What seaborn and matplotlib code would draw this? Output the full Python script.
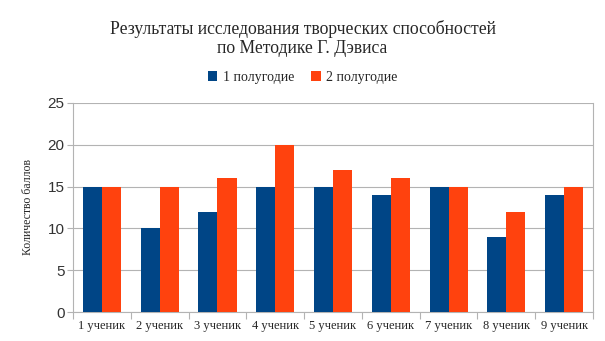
import pandas as pd
import seaborn as sns
import matplotlib.pyplot as plt
from matplotlib.ticker import FixedLocator

# %% DATA

students = ['1 ученик', '2 ученик', '3 ученик', '4 ученик', '5 ученик',
            '6 ученик', '7 ученик', '8 ученик', '9 ученик']
half1 = [15, 10, 12, 15, 15, 14, 15, 9, 14]
half2 = [15, 15, 16, 20, 17, 16, 15, 12, 15]
series = ['1 полугодие', '2 полугодие']

data = pd.concat([
    pd.DataFrame({'Ученик': students, 'Баллы': half1, 'Период': series[0]}),
    pd.DataFrame({'Ученик': students, 'Баллы': half2, 'Период': series[1]}),
])

# %% PLOT

sns.set_style('white')
plt.rcParams['font.family'] = ['Liberation Serif', 'DejaVu Serif']

fig = plt.figure(figsize=(6.05, 3.41), dpi=100)
ax = fig.add_axes([0.1207, 0.085, 0.8595, 0.613])

sns.barplot(
    data=data,
    x='Ученик',
    y='Баллы',
    hue='Период',
    order=students,
    hue_order=series,
    palette=['#004586', '#ff420e'],
    saturation=1,
    width=0.66,
    gap=0,
    errorbar=None,
    linewidth=0,
    ax=ax,
    zorder=3,
)

ax.set_ylim(0, 25)
ax.set_xlim(-0.5, len(students) - 0.5)
ax.set_yticks(range(0, 26, 5))
ax.yaxis.grid(True, color='#b3b3b3', linewidth=0.8, zorder=0)
ax.set_axisbelow(True)
for lbl in ax.get_yticklabels():
    lbl.set_family('Liberation Sans')
    lbl.set_fontsize(11)
    lbl.set_color('#333333')
ax.tick_params(axis='y', left=True, length=4, color='#b3b3b3', pad=2, direction='out')
ax.tick_params(axis='x', which='major', bottom=True, length=0, labelsize=9, pad=6)
ax.xaxis.set_minor_locator(FixedLocator([i - 0.5 for i in range(len(students) + 1)]))
ax.tick_params(axis='x', which='minor', bottom=True, length=5, width=0.8,
               color='#b3b3b3', direction='out')

ax.set_xlabel('')
ax.set_ylabel('Количество баллов', fontsize=8.5, labelpad=10)

ax.spines['top'].set_visible(False)
for side in ['left', 'bottom', 'right']:
    ax.spines[side].set_color('#b3b3b3')
    ax.spines[side].set_linewidth(0.8)

fig.suptitle('Результаты исследования творческих способностей\nпо Методике Г. Дэвиса',
             fontsize=12.7, y=0.94, linespacing=1.1)

ax.legend(
    loc='center',
    bbox_to_anchor=(0.5, 0.774),
    bbox_transform=fig.transFigure,
    ncol=2,
    frameon=False,
    fontsize=10,
    handlelength=0.7,
    handleheight=0.7,
    handletextpad=0.4,
    columnspacing=1.2,
)

fig.savefig('out.png', dpi=100)
